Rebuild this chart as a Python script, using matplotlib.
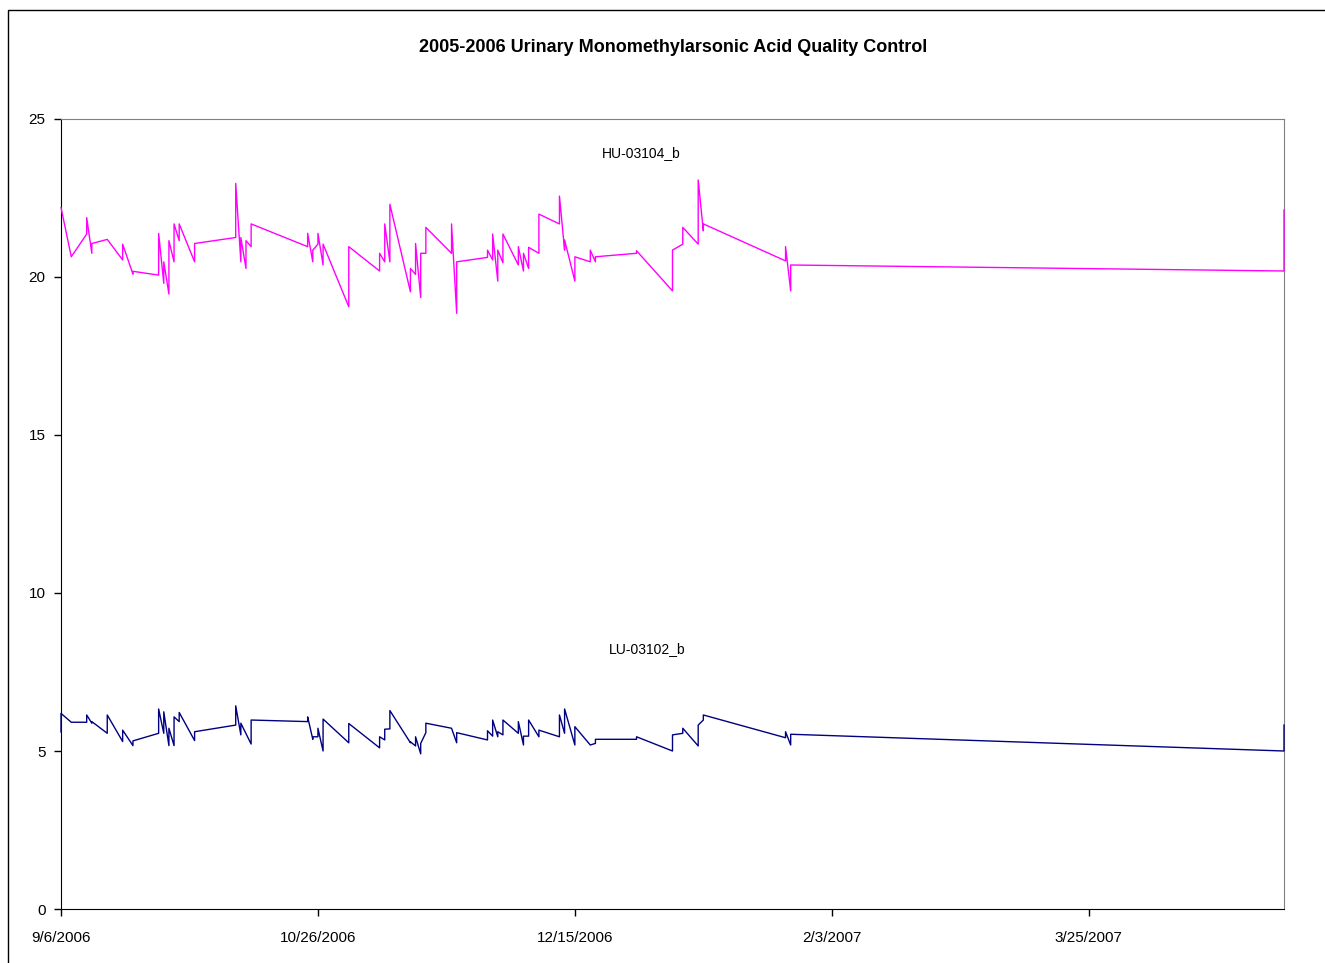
import numpy as np
import matplotlib
matplotlib.use('Agg')
import matplotlib.pyplot as plt
import matplotlib.dates as mdates
from matplotlib.ticker import FuncFormatter
from matplotlib.patches import Rectangle

plt.rcParams['font.family'] = ['Liberation Sans', 'DejaVu Sans']

debut = np.datetime64('2006-09-06')

# HU-03104_b : jours depuis le 9/6/2006 et valeurs
jours_hu = [0, 2, 5, 5, 6, 6, 9, 12, 12, 14, 14, 19, 19, 20, 20, 21, 21, 22, 22, 23, 23,
            26, 26, 34, 34, 35, 35, 36, 36, 37, 37, 48, 48, 49, 49, 50, 50, 51, 51, 56, 56,
            62, 62, 63, 63, 64, 64, 68, 68, 69, 69, 70, 70, 71, 71, 76, 76, 77, 77, 83, 83,
            84, 84, 85, 85, 86, 86, 89, 89, 90, 90, 91, 91, 93, 93, 97, 97, 98, 98, 100, 100,
            103, 103, 104, 104, 112, 112, 119, 119, 121, 121, 124, 124, 125, 125, 141, 141,
            142, 142, 238, 238]
valeurs_hu = [22.2, 20.64, 21.36, 21.88, 20.75, 21.06, 21.19, 20.54, 21.04, 20.09, 20.18,
              20.06, 21.38, 19.8, 20.48, 19.46, 21.15, 20.48, 21.68, 21.15, 21.68,
              20.48, 21.06, 21.25, 22.96, 20.48, 21.25, 20.27, 21.15, 20.96, 21.68,
              20.96, 21.38, 20.48, 20.85, 21.04, 21.38, 20.38, 21.04, 19.06, 20.96,
              20.19, 20.75, 20.48, 21.68, 20.48, 22.3, 19.53, 20.27, 20.08, 21.06,
              19.35, 20.75, 20.75, 21.57, 20.75, 21.68, 18.85, 20.48, 20.62, 20.85,
              20.54, 21.36, 19.87, 20.85, 20.45, 21.36, 20.38, 20.96, 20.19, 20.75,
              20.27, 20.94, 20.75, 21.99, 21.68, 22.56, 20.85, 21.17, 19.87, 20.64,
              20.48, 20.85, 20.48, 20.64, 20.75, 20.83, 19.56, 20.85, 21.04, 21.57,
              21.04, 23.07, 21.46, 21.68, 20.51, 20.96, 19.56, 20.38, 20.19, 22.12]

# LU-03102_b
jours_lu = [0, 0, 2, 5, 5, 6, 6, 9, 9, 12, 12, 14, 14, 19, 19, 20, 20, 21, 21, 22, 22,
            23, 23, 26, 26, 34, 34, 35, 35, 37, 37, 48, 48, 49, 49, 50, 50, 51, 51, 56, 56,
            62, 62, 63, 63, 64, 64, 68, 68, 69, 69, 70, 70, 71, 71, 76, 77, 77, 83, 83,
            84, 84, 85, 85, 86, 86, 89, 89, 90, 90, 91, 91, 93, 93, 97, 97, 98, 98, 100, 100,
            103, 104, 104, 112, 112, 119, 119, 121, 121, 124, 124, 125, 125, 141, 141,
            142, 142, 238, 238]
valeurs_lu = [5.6, 6.19, 5.91, 5.91, 6.14, 5.88, 5.93, 5.56, 6.14, 5.3, 5.66, 5.17, 5.32,
              5.56, 6.33, 5.56, 6.24, 5.17, 5.72, 5.17, 6.08,
              5.93, 6.22, 5.33, 5.61, 5.82, 6.43, 5.51, 5.88, 5.22, 5.98,
              5.93, 6.08, 5.37, 5.45, 5.45, 5.72, 5.0, 6.01, 5.26, 5.87,
              5.1, 5.45, 5.35, 5.69, 5.7, 6.28, 5.26, 5.29, 5.16, 5.45,
              4.91, 5.24, 5.58, 5.88, 5.72, 5.26, 5.58, 5.35, 5.64,
              5.47, 5.98, 5.45, 5.61, 5.51, 5.98, 5.56, 5.93, 5.19, 5.47,
              5.47, 5.98, 5.45, 5.66, 5.45, 6.14, 5.56, 6.33, 5.19, 5.77,
              5.19, 5.24, 5.37, 5.37, 5.45, 5.0, 5.51, 5.56, 5.72, 5.16, 5.82,
              5.98, 6.14, 5.42, 5.61, 5.19, 5.53, 5.0, 5.82]

dates_hu = debut + np.array(jours_hu).astype('timedelta64[D]')
dates_lu = debut + np.array(jours_lu).astype('timedelta64[D]')
fin = debut + np.timedelta64(238, 'D')
ticks_x = debut + np.arange(0, 201, 50).astype('timedelta64[D]')

fig = plt.figure(figsize=(13.25, 9.63), dpi=100)
fig.patches.append(Rectangle((8/1325, -0.1), 1.2, 1 - 10/963 + 0.1, transform=fig.transFigure,
                             fill=False, edgecolor='black', linewidth=1))
ax = fig.add_axes([61/1325, 54/963, 1223/1325, 790/963])

ax.plot(dates_hu, valeurs_hu, color='#FF00FF', linewidth=1.0, zorder=3, clip_on=False)
ax.plot(dates_lu, valeurs_lu, color='#000080', linewidth=1.0, zorder=3, clip_on=False)

ax.text(debut + np.timedelta64(113, 'D'), 23.92, 'HU-03104_b', fontsize=10, ha='center', va='center')
ax.text(debut + np.timedelta64(114, 'D'), 8.23, 'LU-03102_b', fontsize=10, ha='center', va='center')

ax.set_xlim(debut, fin)
ax.set_ylim(0, 25)
ax.set_yticks([0, 5, 10, 15, 20, 25])
ax.set_xticks(ticks_x)
ax.xaxis.set_major_formatter(FuncFormatter(
    lambda v, pos: '%d/%d/%d' % (mdates.num2date(v).month, mdates.num2date(v).day, mdates.num2date(v).year)))
ax.tick_params(axis='both', direction='out', length=5, width=1, labelsize=11)
ax.tick_params(axis='x', pad=11)
ax.tick_params(axis='y', pad=6)

ax.spines['top'].set_color('#808080')
ax.spines['right'].set_color('#808080')

fig.text(673/1325, 1 - 48/963, '2005-2006 Urinary Monomethylarsonic Acid Quality Control',
         fontsize=13, fontweight='bold', ha='center', va='center')

fig.savefig('out.png', dpi=100)
